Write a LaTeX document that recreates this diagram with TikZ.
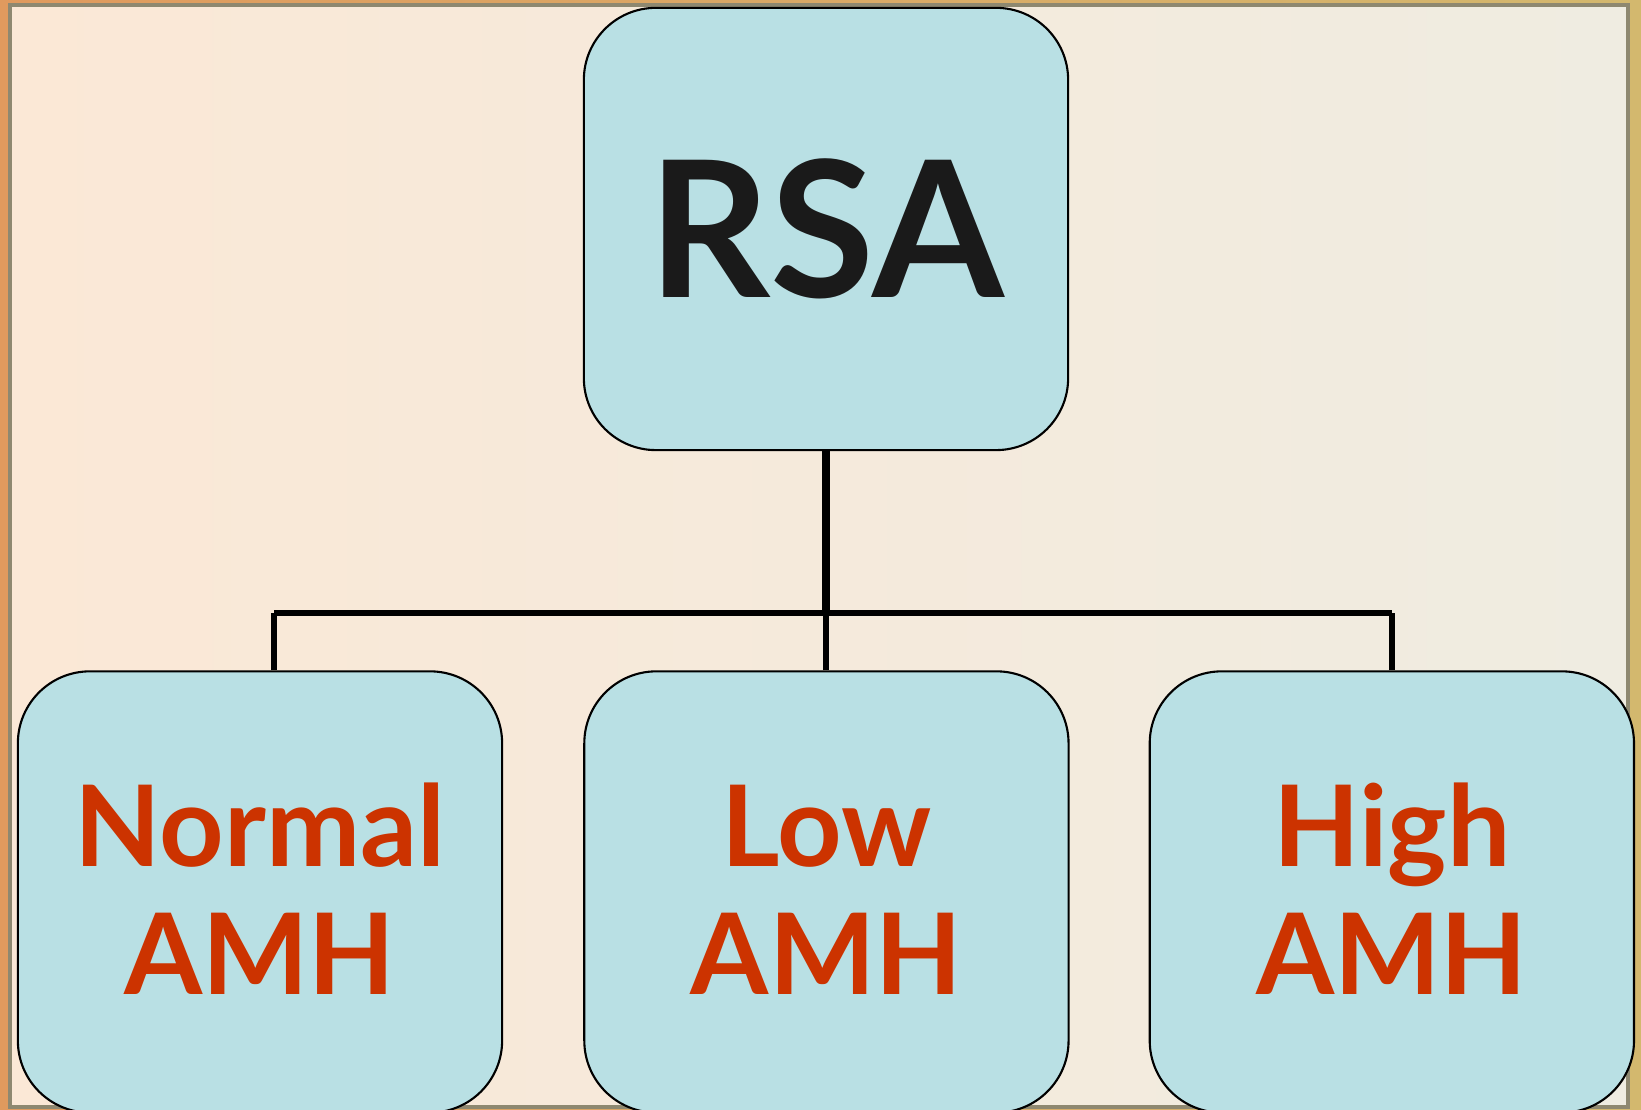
\documentclass[tikz,border=0pt]{standalone}
\usepackage{fontspec}
\setmainfont{Lato}
\usetikzlibrary{positioning}
\definecolor{cajaazul}{HTML}{B9E0E4}
\definecolor{rojoamh}{HTML}{CC3300}
\definecolor{tinta}{HTML}{1A1A1A}
\definecolor{marco}{HTML}{8E8870}
\definecolor{fondoizq}{HTML}{FBE8D6}
\definecolor{fondomed}{HTML}{FDEBD6}
\definecolor{fondoder}{HTML}{EFECE1}
\definecolor{bordeizq}{HTML}{E09A5E}
\definecolor{bordeder}{HTML}{D3B86E}
\newcommand{\dosl}[1]{\rule{0pt}{25.4pt}#1\\AMH\rule[-3.5pt]{0pt}{3.5pt}}
\tikzset{
  caja/.style={draw=black, line width=0.6pt, fill=cajaazul, rounded corners=0.72cm,
    minimum width=4.84cm, minimum height=4.41cm, align=center, text=rojoamh,
    font=\bfseries\fontsize{32}{36.3}\selectfont},
  tronco/.style={line width=2.5pt},
  conector/.style={line width=1.7pt},
}
\begin{document}
\begin{tikzpicture}[x=0.01cm, y=0.01cm]
\useasboundingbox (0,0) rectangle (1641,1110);
\clip (0,0) rectangle (1641,1110);
% Fondo
\shade[left color=bordeizq, right color=bordeder] (0,0) rectangle (1641,1110);
\shade[left color=fondoizq, middle color=fondomed, right color=fondoder] (10,3) rectangle (1628,1105);
\draw[marco, line width=1pt] (10,3) rectangle (1628,1105);
% Cajas
\node[caja, minimum height=4.42cm, text=tinta, font=\bfseries\fontsize{54}{60}\selectfont] (rsa) at (826,881) {RSA};
\node[caja] (normal) at (260,218) {\dosl{Normal}};
\node[caja, right=0.80cm of normal] (low) {\dosl{Low}};
\node[caja, right=0.79cm of low] (high) {\dosl{High}};
% Conectores
\draw[tronco] (rsa.south) -- ++(0,-162) coordinate (cruce);
\draw[conector] ([xshift=4]normal.north |- cruce) -- (high.north |- cruce);
\draw[conector] ([xshift=4]normal.north) -- ([xshift=4]normal.north |- cruce);
\foreach \n in {low,high}
  \draw[conector] (\n.north) -- (\n.north |- cruce);
\end{tikzpicture}
\end{document}
